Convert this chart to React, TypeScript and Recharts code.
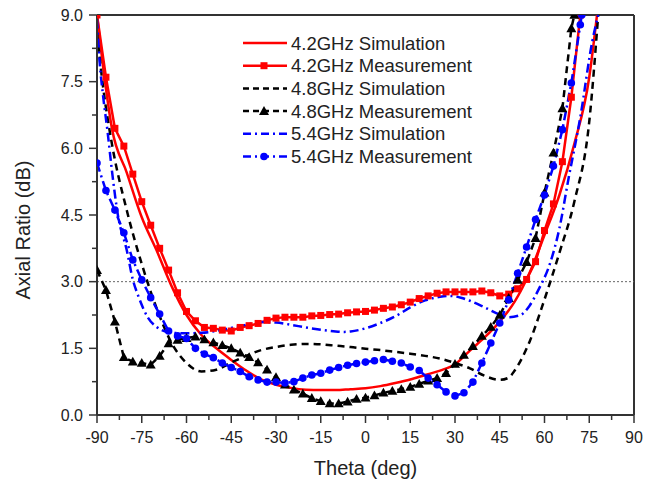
import React from 'react';
import {
  LineChart,
  Line,
  XAxis,
  YAxis,
  ReferenceLine,
  Legend,
} from 'recharts';

// theta (deg), axial ratio (dB)
const redSim: [number, number][] = [
  [-90, 9.0], [-87.5, 7.6], [-85, 6.45], [-80, 5.45], [-75, 4.45], [-70, 3.7],
  [-65, 2.9], [-60, 2.25], [-55, 1.8], [-50, 1.5], [-45, 1.24], [-40, 1.0],
  [-35, 0.8], [-30, 0.68], [-25, 0.61], [-20, 0.57], [-15, 0.56], [-10, 0.56],
  [-5, 0.58], [0, 0.6], [5, 0.65], [10, 0.72], [15, 0.8], [20, 0.9], [25, 1.0],
  [30, 1.14], [35, 1.45], [40, 1.75], [45, 2.1], [50, 2.55], [55, 3.2],
  [60, 4.05], [65, 4.95], [70, 6.1], [75, 7.6], [77.6, 9.0],
];

const redMeas: [number, number][] = [
  [-90, 9.0], [-87, 7.6], [-84, 6.45], [-81, 6.05], [-78, 5.42], [-75, 4.8],
  [-72, 4.27], [-69, 3.75], [-66, 3.26], [-63, 2.75], [-60, 2.33], [-57, 2.12],
  [-54, 1.97], [-51, 1.95], [-48, 1.91], [-45, 1.89], [-42, 1.97], [-39, 2.01],
  [-36, 2.06], [-33, 2.13], [-30, 2.18], [-27, 2.2], [-24, 2.2], [-21, 2.2],
  [-18, 2.23], [-15, 2.24], [-12, 2.26], [-9, 2.27], [-6, 2.3], [-3, 2.32],
  [0, 2.33], [3, 2.36], [6, 2.4], [9, 2.43], [12, 2.48], [15, 2.54], [18, 2.62],
  [21, 2.68], [24, 2.74], [27, 2.77], [30, 2.77], [33, 2.77], [36, 2.77],
  [39, 2.79], [42, 2.75], [45, 2.68], [48, 2.72], [51, 2.84], [54, 3.05],
  [57, 3.45], [60, 4.15], [63, 4.75], [66, 5.7], [69, 7.15], [72, 9.0],
];

const blackSim: [number, number][] = [
  [-90, 8.6], [-88, 7.4], [-85, 6.1], [-80, 4.6], [-75, 3.4], [-70, 2.4],
  [-65, 1.62], [-60, 1.17], [-55, 0.98], [-50, 1.02], [-45, 1.18], [-40, 1.33],
  [-35, 1.46], [-30, 1.53], [-25, 1.58], [-20, 1.6], [-15, 1.59], [-10, 1.56],
  [-5, 1.53], [0, 1.49], [5, 1.46], [10, 1.42], [15, 1.38], [20, 1.33],
  [25, 1.27], [30, 1.17], [35, 1.05], [40, 0.88], [45, 0.79], [48, 0.84],
  [50, 1.0], [55, 1.65], [60, 2.6], [65, 3.65], [70, 4.8], [75, 6.6], [78, 9.0],
];

const blackMeas: [number, number][] = [
  [-90, 3.26], [-87, 2.81], [-84, 2.1], [-81, 1.3], [-78, 1.2], [-75, 1.17],
  [-72, 1.13], [-69, 1.33], [-66, 1.61], [-63, 1.69], [-60, 1.73], [-57, 1.76],
  [-54, 1.7], [-51, 1.63], [-48, 1.57], [-45, 1.5], [-42, 1.4], [-39, 1.3],
  [-36, 1.18], [-33, 1.02], [-30, 0.85], [-27, 0.68], [-24, 0.57], [-21, 0.48],
  [-18, 0.38], [-15, 0.31], [-12, 0.26], [-9, 0.26], [-6, 0.3], [-3, 0.36],
  [0, 0.39], [3, 0.44], [6, 0.5], [9, 0.54], [12, 0.58], [15, 0.63], [18, 0.7],
  [21, 0.77], [24, 0.83], [27, 0.94], [30, 1.15], [33, 1.35], [36, 1.55],
  [39, 1.78], [42, 1.98], [45, 2.25], [48, 2.63], [51, 3.04], [54, 3.44],
  [57, 3.98], [60, 5.0], [63, 5.9], [66, 6.9], [69, 8.7], [70, 9.0],
];

const blueSim: [number, number][] = [
  [-90, 8.9], [-89, 7.85], [-88, 7.2], [-86.5, 6.4], [-85, 5.5], [-83, 4.5],
  [-80, 3.7], [-78, 3.05], [-76, 2.65], [-73, 2.2], [-70, 1.98], [-65, 1.85],
  [-60, 1.84], [-55, 1.85], [-50, 1.89], [-45, 1.96], [-40, 2.03], [-35, 2.09],
  [-30, 2.08], [-25, 2.03], [-20, 1.97], [-15, 1.92], [-10, 1.88], [-7, 1.87],
  [-5, 1.88], [0, 1.95], [5, 2.07], [10, 2.22], [15, 2.42], [20, 2.58],
  [25, 2.66], [28, 2.68], [32, 2.64], [35, 2.57], [40, 2.42], [45, 2.26],
  [48, 2.2], [52, 2.25], [55, 2.46], [58, 2.82], [62, 3.44], [65, 4.2],
  [68, 5.3], [72, 6.7], [76, 8.4], [78, 9.0],
];

const blueMeas: [number, number][] = [
  [-90, 5.67], [-87, 5.05], [-84, 4.61], [-81, 4.1], [-78, 3.49], [-75, 3.04],
  [-72, 2.64], [-69, 2.27], [-66, 1.89], [-63, 1.78], [-60, 1.72], [-57, 1.5],
  [-54, 1.37], [-51, 1.29], [-48, 1.17], [-45, 1.07], [-42, 0.98], [-39, 0.86],
  [-36, 0.79], [-33, 0.74], [-30, 0.74], [-27, 0.72], [-24, 0.75], [-21, 0.83],
  [-18, 0.9], [-15, 0.94], [-12, 1.01], [-9, 1.07], [-6, 1.12], [-3, 1.16],
  [0, 1.19], [3, 1.22], [6, 1.25], [9, 1.21], [12, 1.17], [15, 1.08], [18, 1.0],
  [21, 0.83], [24, 0.68], [27, 0.52], [30, 0.43], [33, 0.5], [36, 0.74],
  [39, 1.17], [42, 1.62], [45, 2.07], [48, 2.59], [51, 3.19], [54, 3.78],
  [57, 4.4], [60, 4.95], [63, 5.6], [66, 6.42], [69, 7.47], [72, 8.78], [72.5, 9.0],
];

const xTicks = [
  -90, -82.5, -75, -67.5, -60, -52.5, -45, -37.5, -30, -22.5, -15, -7.5, 0,
  7.5, 15, 22.5, 30, 37.5, 45, 52.5, 60, 67.5, 75, 82.5, 90,
];
const yTicks = [0, 0.75, 1.5, 2.25, 3, 3.75, 4.5, 5.25, 6, 6.75, 7.5, 8.25, 9];

const toRows = (arr: [number, number][]) => arr.map(([t, v]) => ({ t, v }));

const FONT = '"Liberation Sans", Arial, sans-serif';
const AXIS = '#333';
const RED = '#ff0000';
const BLACK = '#000000';
const BLUE = '#0000ff';
const BLACK_DASH = '7 5';
const BLUE_DASH = '9 4 2 4';

const Square = ({ cx, cy }: any) =>
  cx == null || cy == null ? null : (
    <rect x={cx - 3.5} y={cy - 3.5} width={7} height={7} fill={RED} />
  );

const Triangle = ({ cx, cy }: any) =>
  cx == null || cy == null ? null : (
    <polygon
      points={`${cx},${cy - 5} ${cx - 5},${cy + 3.8} ${cx + 5},${cy + 3.8}`}
      fill={BLACK}
    />
  );

const Circle = ({ cx, cy }: any) =>
  cx == null || cy == null ? null : <circle cx={cx} cy={cy} r={3.8} fill={BLUE} />;

const XTick = ({ x, y, payload }: any) => {
  const v = payload.value;
  const major = v % 15 === 0;
  return (
    <g>
      <line x1={x} x2={x} y1={y} y2={y + (major ? 8 : 5)} stroke={AXIS} strokeWidth={1.5} />
      {major && (
        <text x={x} y={y + 28} textAnchor="middle" fontSize={16} fill="#222" fontFamily={FONT}>
          {String(v)}
        </text>
      )}
    </g>
  );
};

const YTick = ({ x, y, payload }: any) => {
  const v = payload.value;
  const major = Math.abs((v / 1.5) - Math.round(v / 1.5)) < 1e-6;
  return (
    <g>
      <line x1={x} x2={x - (major ? 8 : 5)} y1={y} y2={y} stroke={AXIS} strokeWidth={1.5} />
      {major && (
        <text x={x - 14} y={y + 5.6} textAnchor="end" fontSize={16} fill="#222" fontFamily={FONT}>
          {v.toFixed(1)}
        </text>
      )}
    </g>
  );
};

const YLabel = ({ viewBox }: any) => (
  <text
    transform={`translate(${viewBox.x - 7}, 230) rotate(-90)`}
    textAnchor="middle"
    fontSize={20}
    fill="#222"
    fontFamily={FONT}
  >
    Axial Ratio (dB)
  </text>
);

const legendItems = [
  { label: '4.2GHz Simulation', color: RED, dash: undefined, marker: null },
  { label: '4.2GHz Measurement', color: RED, dash: undefined, marker: 'square' },
  { label: '4.8GHz Simulation', color: BLACK, dash: '6 4', marker: null },
  { label: '4.8GHz Measurement', color: BLACK, dash: '6 4', marker: 'triangle' },
  { label: '5.4GHz Simulation', color: BLUE, dash: '8 4 2 4', marker: null },
  { label: '5.4GHz Measurement', color: BLUE, dash: '8 4 2 4', marker: 'circle' },
];

const renderLegend = () => (
  <svg width={260} height={140}>
    {legendItems.map((it, i) => {
      const cy = 11 + i * 22.7;
      return (
        <g key={it.label}>
          <line x1={3} x2={47} y1={cy} y2={cy} stroke={it.color} strokeWidth={2.5} strokeDasharray={it.dash} />
          {it.marker === 'square' && <Square cx={24} cy={cy} />}
          {it.marker === 'triangle' && <Triangle cx={24} cy={cy} />}
          {it.marker === 'circle' && <Circle cx={24} cy={cy} />}
          <text x={51} y={cy + 6.5} fontSize={18.5} fill="#222" fontFamily={FONT}>
            {it.label}
          </text>
        </g>
      );
    })}
  </svg>
);

export default function App() {
  return (
    <div style={{ position: 'absolute', left: 0, top: 0, background: '#fff' }}>
      <LineChart width={654} height={483} margin={{ top: 15, right: 20, bottom: 18, left: 37 }}>
        <XAxis
          type="number"
          dataKey="t"
          domain={[-90, 90]}
          ticks={xTicks}
          interval={0}
          tickSize={0}
          tickMargin={0}
          tickLine={false}
          tick={<XTick />}
          axisLine={{ stroke: AXIS, strokeWidth: 2 }}
          height={50}
          allowDataOverflow
          label={{
            value: 'Theta (deg)',
            position: 'bottom',
            offset: -4,
            fontSize: 20,
            fill: '#222',
            fontFamily: FONT,
          }}
        />
        <YAxis
          type="number"
          domain={[0, 9]}
          ticks={yTicks}
          interval={0}
          tickSize={0}
          tickMargin={0}
          tickLine={false}
          tick={<YTick />}
          axisLine={{ stroke: AXIS, strokeWidth: 2 }}
          width={60}
          allowDataOverflow
          label={<YLabel />}
        />
        <ReferenceLine y={9} stroke={AXIS} strokeWidth={2} />
        <ReferenceLine x={90} stroke={AXIS} strokeWidth={2} />
        <ReferenceLine y={3} stroke="#666" strokeWidth={1} strokeDasharray="2 2" />
        <Legend
          layout="vertical"
          align="center"
          verticalAlign="middle"
          content={renderLegend}
          wrapperStyle={{ left: 240, top: 32, width: 260, height: 140 }}
        />
        <Line
          data={toRows(redSim)}
          dataKey="v"
          type="monotone"
          stroke={RED}
          strokeWidth={2.5}
          dot={false}
          isAnimationActive={false}
        />
        <Line
          data={toRows(redMeas)}
          dataKey="v"
          type="linear"
          stroke={RED}
          strokeWidth={2.5}
          dot={(p: any) => <Square key={p.index} {...p} />}
          isAnimationActive={false}
        />
        <Line
          data={toRows(blackSim)}
          dataKey="v"
          type="monotone"
          stroke={BLACK}
          strokeWidth={2.5}
          strokeDasharray={BLACK_DASH}
          dot={false}
          isAnimationActive={false}
        />
        <Line
          data={toRows(blackMeas)}
          dataKey="v"
          type="linear"
          stroke={BLACK}
          strokeWidth={2.5}
          strokeDasharray={BLACK_DASH}
          dot={(p: any) => <Triangle key={p.index} {...p} />}
          isAnimationActive={false}
        />
        <Line
          data={toRows(blueSim)}
          dataKey="v"
          type="monotone"
          stroke={BLUE}
          strokeWidth={2.5}
          strokeDasharray={BLUE_DASH}
          dot={false}
          isAnimationActive={false}
        />
        <Line
          data={toRows(blueMeas)}
          dataKey="v"
          type="linear"
          stroke={BLUE}
          strokeWidth={2.5}
          strokeDasharray={BLUE_DASH}
          dot={(p: any) => <Circle key={p.index} {...p} />}
          isAnimationActive={false}
        />
      </LineChart>
    </div>
  );
}
